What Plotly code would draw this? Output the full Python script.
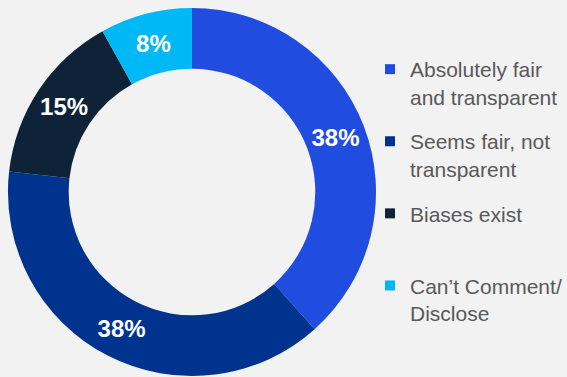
import plotly.graph_objects as go

categories = ["Absolutely fair<br>and transparent", "Seems fair, not<br>transparent",
              "Biases exist<br> ", "Can’t Comment/<br>Disclose"]
values = [38, 38, 15, 8]
colors = ["#214CE0", "#00338D", "#0E2238", "#00B8F5"]

W, H = 567, 377
fig = go.Figure()

fig.add_trace(go.Pie(
    labels=categories, values=values, sort=False, direction="clockwise", rotation=0,
    hole=0.67, marker=dict(colors=colors, line=dict(width=0)),
    texttemplate="%{value}%", textposition="inside", insidetextorientation="horizontal",
    textfont=dict(family="Liberation Sans", size=24, color="white", weight="bold"),
    domain=dict(x=[8 / W, 378 / W], y=[0, 370 / H]),
    showlegend=False, hoverinfo="label+percent",
))

for lab, col in zip(categories, colors):
    fig.add_trace(go.Scatter(
        x=[None], y=[None], mode="markers", name=lab, legendgroup=lab,
        marker=dict(symbol="square", size=10, color=col),
    ))

fig.update_layout(
    width=W, height=H, margin=dict(l=0, r=0, t=0, b=0),
    paper_bgcolor="#F2F2F2", plot_bgcolor="#F2F2F2",
    xaxis=dict(visible=False), yaxis=dict(visible=False),
    showlegend=True,
    legend=dict(
        x=372 / W, xanchor="left", y=1 - 49 / H, yanchor="top",
        font=dict(family="Liberation Sans", size=21, color="#595959"),
        bgcolor="rgba(0,0,0,0)", valign="top", tracegroupgap=14.5,
        itemclick=False, itemdoubleclick=False,
    ),
)

fig.write_html(
    "out.html",
    config={"displayModeBar": False},
    post_script="document.body.style.margin='0';document.body.style.padding='0';"
                "document.body.style.background='#F2F2F2';",
)
